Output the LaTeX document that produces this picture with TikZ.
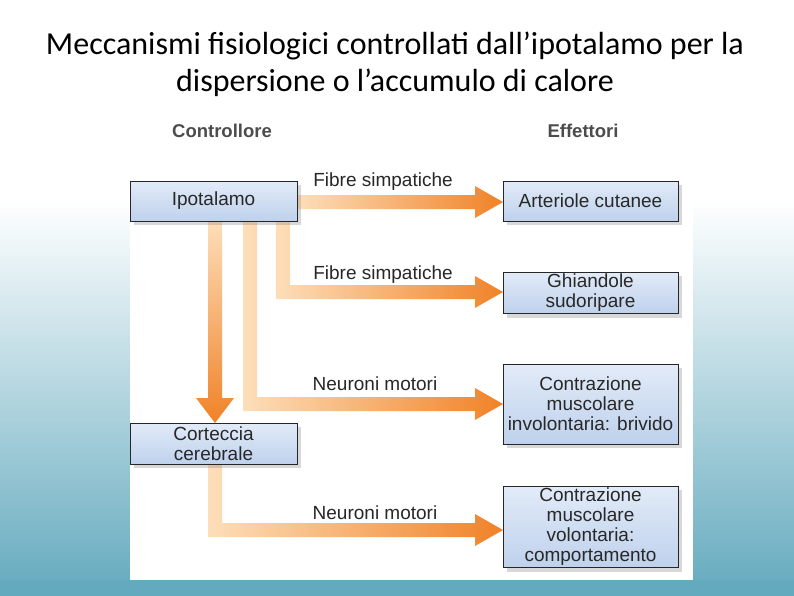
\documentclass[tikz,border=0pt]{standalone}
\usepackage{fontspec}
\setmainfont{Liberation Sans}
\newfontfamily\titlefont{Carlito}
\usetikzlibrary{shadows}
\definecolor{bgteal}{RGB}{100,170,190}
\definecolor{boxfill}{RGB}{190,209,236}
\definecolor{boxtop}{RGB}{226,235,248}
\definecolor{orD}{RGB}{240,130,40}
\definecolor{orL}{RGB}{253,222,185}
\definecolor{txt}{RGB}{40,40,40}
\begin{document}
\begin{tikzpicture}[x=1pt,y=-1pt,
  box/.style={draw=black!85, line width=1pt, top color=boxtop, bottom color=boxfill, align=center, text=txt, font=\fontsize{19}{20}\selectfont, inner sep=2pt, drop shadow={shadow xshift=4pt, shadow yshift=-4pt, opacity=0.3}},
  lab/.style={text=txt, font=\fontsize{19}{20}\selectfont},
  hd/.style={text=black!70, font=\bfseries\fontsize{18.5}{20}\selectfont},
  arr/.style={left color=orL, right color=orD}]
\fill[white] (0,0) rectangle (794,595);
\shade[top color=white, bottom color=bgteal] (0,200) rectangle (794,595);
\fill[bgteal] (0,580) rectangle (794,595);
\useasboundingbox (0,0) rectangle (794,595);
\node[font=\titlefont\fontsize{32}{37}\selectfont, align=center, text=black] (title) at (395,64) {Meccanismi fisiologici controllati dall’ipotalamo per la\\dispersione o l’accumulo di calore};
\fill[white] (130,117) rectangle (693,580);
\node[hd] (h1) at (222,131) {Controllore};
\node[hd] (h2) at (583,131) {Effettori};
% arrows
\shade[arr] (297,195)--(475,195)--(475,186)--(503,202)--(475,218)--(475,209)--(297,209)--cycle;
\shade[arr] (276,221)--(290,221)--(290,285)--(475,285)--(475,276)--(503,292)--(475,308)--(475,299)--(276,299)--cycle;
\shade[arr] (243,221)--(257,221)--(257,397)--(475,397)--(475,388)--(503,404)--(475,420)--(475,411)--(243,411)--cycle;
\shade[top color=orL, bottom color=orD] (208,221)--(222,221)--(222,398)--(234,398)--(215,423)--(196,398)--(208,398)--cycle;
\shade[arr] (208,464)--(222,464)--(222,523)--(475,523)--(475,514)--(503,530)--(475,546)--(475,537)--(208,537)--cycle;
% boxes
\node[box, minimum width=167pt, minimum height=40pt] (ipo) at (213.5,201) {Ipotalamo};
\node[box, minimum width=175pt, minimum height=40pt] (art) at (590.5,201) {Arteriole cutanee};
\node[box, minimum width=175pt, minimum height=40pt] (ghi) at (590.5,293) {Ghiandole\\sudoripare};
\node[box, minimum width=175pt, minimum height=80pt] (inv) at (590.5,404) {Contrazione\\muscolare\\involontaria: brivido};
\node[box, minimum width=167pt, minimum height=41pt] (cor) at (213.5,443.5) {Corteccia\\cerebrale};
\node[box, minimum width=175pt, minimum height=78pt] (vol) at (590.5,527) {Contrazione\\muscolare\\volontaria:\\comportamento};
% labels
\node[lab] (l1) at (383,182) {Fibre simpatiche};
\node[lab] (l2) at (383,275) {Fibre simpatiche};
\node[lab] (l3) at (375,384) {Neuroni motori};
\node[lab] (l4) at (375,513) {Neuroni motori};
\end{tikzpicture}
\end{document}
